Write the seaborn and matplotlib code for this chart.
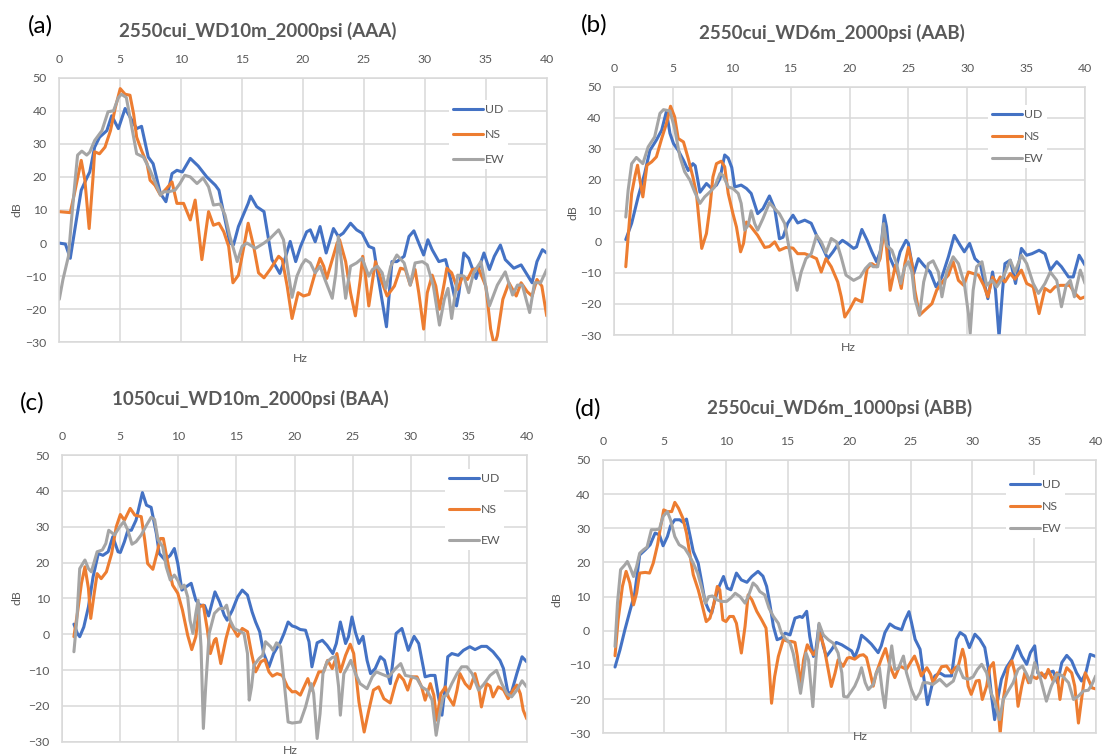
import matplotlib
matplotlib.use("Agg")
import matplotlib.pyplot as plt
import pandas as pd
import seaborn as sns

# ---------------------------------------------------------------- data
# Spectral level (dB) versus frequency (Hz) for three components per shot

series_names = ["UD", "NS", "EW"]
palette = {"UD": "#4472C4", "NS": "#ED7D31", "EW": "#A5A5A5"}

titles = ["2550cui_WD10m_2000psi (AAA)", "2550cui_WD6m_2000psi (AAB)",
          "1050cui_WD10m_2000psi (BAA)", "2550cui_WD6m_1000psi (ABB)"]
panel_tags = ["(a)", "(b)", "(c)", "(d)"]
x_ticks = [0, 5, 10, 15, 20, 25, 30, 35, 40]
y_ticks = [-30, -20, -10, 0, 10, 20, 30, 40, 50]

# (a) 2550cui_WD10m_2000psi
a_ud_hz = [0, 0.5, 0.9, 1.4, 1.8, 2.3, 2.5, 2.9, 3.3, 3.9, 4.3, 4.85, 5.4, 6.35, 6.75, 7.3, 7.7, 8.3, 8.75, 9.25,
           9.65, 10.1, 10.75, 11.4, 12.1, 12.8, 13.1, 14.0, 14.3, 14.7, 15.5, 15.7, 16.2, 16.8, 17.0, 17.45, 18.1,
           18.5, 18.95, 19.4, 19.8, 20.3, 20.6, 21.0, 21.4, 21.9, 22.5, 22.9, 23.3, 23.9, 24.4, 24.85, 25.4, 25.8,
           26.2, 26.85, 27.3, 27.7, 28.3, 28.7, 29.1, 29.5, 29.9, 30.25, 30.6, 31.15, 31.7, 32.1, 32.6, 32.8, 33.2,
           33.6, 34.2, 34.4, 34.85, 35.3, 35.7, 36.2, 36.6, 37.3, 37.9, 38.3, 38.8, 39.2, 39.65, 40.0]
a_ud_db = [0, -0.3, -4.6, 7, 16, 20, 21.5, 29, 32, 34, 38.5, 34.6, 40.7, 34.6, 35.3, 26, 24, 15, 12.5, 21,
           22, 21.5, 25.6, 23.3, 20, 17.5, 16, 0, -0.5, 5, 12, 14.2, 11, 9.5, 5, -5, -9.2,
           -5, 0.5, -5.6, -1, 3.4, 4, 0.4, 5, -3, 4.4, 2, 3, 6, 4, 3, -1, -1.6,
           -11, -25.3, -5.6, -5.6, -4, 2, 3.7, 0, -3.6, 1, -2, -5.6, -5, -10.7, -19, -15, -3,
           -4.6, -10.7, -8, -3, -8, -4, -0.6, -5, -7.6, -6.6, -9, -12, -5.6, -2, -3]
a_ns_hz = [0, 0.9, 1.3, 1.8, 2.1, 2.45, 2.75, 2.9, 3.3, 3.75, 4.2, 4.6, 5.0, 5.4, 5.8, 6.1, 6.35, 6.75, 7.2, 7.45,
           7.85, 8.3, 8.8, 9.25, 9.65, 10.2, 10.75, 11.15, 11.4, 11.7, 12.25, 12.65, 13.1, 13.5, 13.9, 14.25, 14.7,
           15.1, 15.5, 15.95, 16.35, 16.8, 17.3, 18.0, 18.3, 18.7, 19.1, 19.6, 20.05, 20.5, 21.0, 21.4, 21.7, 21.95,
           22.4, 22.8, 23.0, 23.5, 23.9, 24.3, 24.7, 24.9, 25.1, 25.4, 25.8, 25.95, 26.4, 26.9, 27.5, 28.0, 28.4,
           28.8, 29.2, 29.5, 29.9, 30.2, 30.6, 30.9, 31.2, 31.6, 31.8, 32.2, 32.7, 33.1, 33.5, 33.9, 34.4, 35.0,
           35.4, 35.7, 35.95, 36.4, 36.9, 37.5, 37.9, 38.4, 38.8, 39.2, 39.6, 40.0]
a_ns_db = [9.5, 9.2, 16, 25, 19, 4.4, 19, 27.6, 27, 29, 34, 41, 46.7, 45, 44.7, 39, 32, 28, 24, 19,
           17.5, 14.5, 16.5, 18.5, 12, 12, 7, 13, 5, -5, 9.5, 5.4, 6, 3.4, -1, -12, -9.7,
           -2, 6, -1, -9, -10.5, -8, -4, -5, -13, -22.8, -15, -16, -15.5, -9, -4.6, -7, -10.7,
           -5, 0, 1, -5.6, -15, -22, -11, -4, -9, -19, -9, -5.6, -11, -16, -13, -7.6, -8,
           -12.7, -8, -15, -26, -15, -9.7, -13, -20, -12, -7.6, -9, -14, -10, -11, -8, -7.6, -13,
           -26, -31, -28, -17, -12, -16, -12, -14.7, -16, -11, -13, -22]
a_ew_hz = [0, 0.3, 0.75, 1.0, 1.3, 1.5, 1.85, 2.25, 2.5, 2.9, 3.5, 4.0, 4.45, 4.85, 5.1, 5.5, 5.95, 6.35, 6.9,
           7.45, 7.85, 8.3, 8.55, 8.95, 9.5, 9.9, 10.3, 10.75, 11.3, 11.8, 12.25, 12.65, 13.2, 13.6, 14.0, 14.6,
           15.0, 15.4, 16.1, 16.8, 17.3, 18.0, 18.4, 18.8, 19.1, 19.5, 19.9, 20.2, 20.6, 21.0, 21.4, 21.8, 22.4,
           22.7, 22.9, 23.2, 23.5, 23.9, 24.4, 24.85, 25.4, 25.7, 26.1, 26.5, 26.8, 27.2, 27.7, 28.3, 28.8, 29.2,
           29.8, 30.2, 30.7, 31.2, 31.6, 31.9, 32.2, 32.7, 33.2, 33.6, 34.0, 34.6, 35.3, 35.95, 36.6, 37.2, 37.6,
           38.0, 38.6, 39.0, 39.5, 40.0]
a_ew_db = [-17, -11, -4, 7, 19, 26.6, 27.8, 26.6, 27.5, 31, 34, 39.7, 40, 44, 45, 44, 35, 27, 26,
           22, 18.5, 14.5, 15.5, 15.5, 16, 18, 20.5, 20, 18, 19.7, 17, 11.5, 11.8, 8.5, 2, -5.6,
           -1, 0, -1.6, 0, 1.4, 4, 1, -9, -16.4, -10, -6.6, -5, -6, -9, -7, -11, -16.7,
           -9, 2, -7, -16.7, -7, -6, -4.6, -10, -8, -7, -9, -13.7, -7, -3.6, -6, -12.7, -6,
           -5.6, -6.6, -13, -24.8, -17, -13.7, -22.8, -9.7, -10, -15, -9, -5.6, -19, -12.7, -8.7, -15.7, -12.7,
           -12.7, -21, -12, -12, -8]

# (b) 2550cui_WD6m_2000psi
b_ud_hz = [1.0, 1.5, 2.05, 2.6, 3.05, 3.6, 4.05, 4.45, 4.75, 5.05, 5.45, 5.9, 6.3, 6.7, 6.9, 7.3, 7.85, 8.3, 8.7,
           9.0, 9.4, 9.7, 10.0, 10.25, 10.8, 11.25, 11.65, 12.2, 12.65, 13.2, 13.65, 14.05, 14.35, 14.75, 15.2,
           15.6, 16.2, 16.75, 17.2, 17.75, 18.15, 18.6, 19.0, 19.4, 19.8, 20.35, 20.6, 21.05, 21.5, 21.9, 22.3,
           22.65, 22.95, 23.15, 23.4, 23.9, 24.3, 24.8, 25.0, 25.45, 25.85, 26.3, 26.85, 27.35, 27.85, 28.4, 28.9,
           29.4, 29.75, 30.2, 30.65, 31.1, 31.4, 31.75, 32.15, 32.4, 32.7, 33.0, 33.2, 33.65, 34.1, 34.6, 35.05,
           35.5, 36.1, 36.6, 37.05, 37.6, 38.0, 38.6, 39.0, 39.5, 40.0]
b_ud_db = [0.75, 6, 14.5, 22, 29.5, 32.8, 36, 42, 35, 31.7, 29.5, 26.3, 23, 25.2, 24.5, 16, 18.8, 17.2, 18.3,
           20.4, 28, 27, 24, 17.7, 18.3, 17.2, 15.6, 9.1, 10.7, 14.8, 10.7, 1, 1.5, 6, 8.6,
           6.1, 7, 6, 2.1, -2.1, -5.4, -3.2, -0.9, 0.5, -0.5, -2.1, -1.6, 4, 0.5, -3.2, -6.4,
           -2.7, 8.6, 4.8, -4.8, -9.1, -3.2, 0.5, -0.5, -10.2, -5.4, -7.5, -9.7, -14.5, -11.3, -4.8, 2.1,
           -1.1, -3.2, -0.5, -5.4, -7, -12.4, -18.3, -9.7, -15.6, -30.6, -15.6, -7, -5.9, -13.4, -2.1, -4.3,
           -3.8, -2.7, -3.8, -9.1, -6.4, -8, -11.3, -11.3, -4.3, -7.5]
b_ns_hz = [1.0, 1.2, 1.5, 1.8, 2.0, 2.2, 2.45, 2.8, 3.2, 3.6, 4.05, 4.45, 4.8, 5.15, 5.45, 5.9, 6.3, 6.7, 7.0,
           7.45, 7.85, 8.15, 8.4, 8.7, 9.1, 9.4, 9.7, 10.1, 10.4, 10.75, 11.0, 11.25, 11.65, 12.2, 12.8, 13.2,
           13.65, 14.05, 14.6, 15.2, 15.6, 16.2, 16.75, 17.2, 17.6, 18.0, 18.45, 19.0, 19.3, 19.6, 20.05, 20.5,
           20.75, 21.05, 21.5, 21.9, 22.3, 22.6, 22.95, 23.15, 23.45, 23.9, 24.15, 24.4, 24.7, 25.0, 25.3, 25.55,
           25.95, 26.4, 27.0, 27.4, 28.0, 28.4, 28.8, 29.25, 29.7, 30.1, 30.5, 30.95, 31.4, 31.75, 32.15, 32.5,
           32.8, 33.2, 33.65, 34.05, 34.6, 35.05, 35.6, 36.1, 36.6, 37.05, 37.45, 37.9, 38.7, 39.15, 39.6, 40.0]
b_ns_db = [-8, 1.6, 15.6, 21.5, 24.7, 19.9, 14.5, 24.7, 25.8, 27.4, 33.3, 38.1, 43.7, 40.3, 33.3, 32.2, 26.9,
           20.9, 15.6, -2.1, 2.7, 11.3, 20.9, 25.2, 26, 24.2, 15.6, 9.1, 4.8, -3.2, -0.5, 6.4, 4.8, 2.1, -1.8,
           -1.5, 0, -2.7, -1.8, -2, -3.8, -3.8, -4.6, -5.4, -9.7, -5.4, -8, -12.9, -17.7, -24.2, -21.5, -18.3,
           -18.8, -19.3, -8.6, -7, -8, -5.4, 3.8, -2, -15.6, -7.5, -11, -15, -7, -1.8, -7, -15.6,
           -23.6, -22, -19.9, -15.6, -12.4, -10.7, -6.4, -12.4, -14, -9.7, -10.2, -10.7, -14, -17.7, -11.3, -13.4,
           -11.3, -12.9, -10.2, -12, -9.1, -13.4, -14.5, -23.1, -15, -16.1, -14.5, -14, -14, -16.6, -18.3, -17.7]
b_ew_hz = [1.0, 1.2, 1.5, 1.9, 2.45, 2.9, 3.45, 3.9, 4.2, 4.75, 5.15, 5.6, 6.0, 6.45, 6.85, 7.3, 7.7, 8.15, 8.55,
           9.0, 9.25, 9.7, 10.1, 10.55, 10.8, 11.1, 11.4, 11.65, 11.95, 12.2, 12.65, 13.2, 13.65, 14.05, 14.5,
           14.9, 15.2, 15.55, 15.9, 16.3, 16.75, 17.2, 17.6, 18.0, 18.45, 18.9, 19.3, 19.7, 20.35, 20.9, 21.35,
           21.75, 22.0, 22.4, 22.75, 22.9, 23.15, 23.6, 24.0, 24.35, 24.7, 25.0, 25.3, 25.55, 25.95, 26.3, 26.7,
           27.1, 27.55, 27.85, 28.25, 28.8, 29.25, 29.75, 30.1, 30.25, 30.5, 30.8, 31.25, 31.65, 32.1, 32.5,
           33.05, 33.65, 34.05, 34.6, 35.05, 35.6, 36.05, 36.6, 37.05, 37.6, 38.0, 38.4, 38.75, 39.1, 39.6, 40.0]
b_ew_db = [8, 16.6, 25.2, 27.2, 25.2, 30.6, 33.8, 41.4, 42.6, 42.2, 36.5, 27.4, 22.6, 19.9, 16.1, 12.4, 14.5,
           16.1, 17.7, 22, 21.5, 17.7, 17.2, 15.6, 12.4, 3.8, 5.4, 10, 5.9, 3.8, 7.5, 12.6, 10.7, 9.1, 5.9,
           -2.7, -9.1, -15.6, -9.7, -5.4, -3.8, 2.1, 0, -3.5, 1.1, 0, -5, -10.7, -12.4, -11.3, -8.6,
           -7, -8, -8, 0.5, 5.9, -1.1, -2.7, -7, -13.4, -8, -6.4, -9.7, -18.3, -23.6, -12.9, -7,
           -6.1, -9.7, -17.7, -9.7, -4.8, -7, -13.4, -23.1, -29.5, -15.6, -8, -6.4, -14, -12.4, -14.5,
           -11.3, -5.9, -9.7, -4.3, -7, -13.4, -16.6, -13.4, -9.7, -12.4, -20.9, -14, -12.4, -17.7, -9.1, -13.4]

# (c) 1050cui_WD10m_2000psi
c_ud_hz = [1.0, 1.3, 1.5, 1.85, 2.25, 2.65, 3.1, 3.5, 3.95, 4.35, 4.8, 5.0, 5.35, 5.65, 5.95, 6.35, 6.9, 7.25,
           7.65, 8.1, 8.35, 8.85, 9.3, 9.65, 9.95, 10.3, 10.65, 11.1, 11.5, 11.85, 12.25, 12.6, 13.15, 13.55,
           13.95, 14.2, 14.65, 15.1, 15.5, 15.95, 16.35, 16.65, 17.0, 17.35, 17.8, 18.2, 18.8, 19.1, 19.45, 19.8,
           20.1, 20.5, 20.95, 21.25, 21.5, 21.95, 22.4, 22.8, 23.3, 23.6, 23.95, 24.4, 24.65, 24.95, 25.25, 25.55,
           25.9, 26.25, 26.55, 26.95, 27.4, 27.75, 28.25, 28.75, 29.25, 29.8, 30.3, 30.7, 31.25, 31.7, 32.1, 32.4,
           32.7, 33.0, 33.2, 33.55, 34.1, 34.55, 35.1, 35.55, 36.1, 36.55, 37.1, 37.7, 38.0, 38.4, 38.7, 39.15,
           39.6, 40.0]
c_ud_db = [2.8, 0.2, -0.7, 2, 7.6, 16, 22.5, 22, 23, 27.2, 23, 22.8, 25.8, 29, 29, 31.8, 39.5, 36,
           35.4, 28.1, 22.5, 20.7, 22, 23.9, 19.7, 12.3, 13.2, 14.2, 9.5, 8.1, 8, 5.1, 11.8, 9,
           5.3, 3.9, 6.7, 10.4, 12.3, 10.9, 6.2, 3.4, 0.7, -5.4, -9.1, -5.4, -2.1, 0.2, 3.4, 2.3,
           2, 1.3, 1.1, -2.1, -9.1, -2.4, -1.7, -3.1, -5.4, -2.6, 3.4, -2.6, -0.7, 4.8, 0.5, -2.6,
           -0.6, -7.3, -11, -9.6, -6.3, -7.3, -13.8, 0.2, 1.6, -4.5, -0.6, -2.6, -11.9, -11.5, -11.5, -17.5,
           -22.6, -13.8, -6.3, -5.4, -5.9, -4.5, -3.5, -4.3, -3.4, -3.4, -4.9, -7.3, -9.6, -16.6, -16.1, -11,
           -6.3, -7.7]
c_ns_hz = [1.0, 1.3, 1.65, 1.95, 2.25, 2.45, 2.75, 3.0, 3.35, 3.8, 4.25, 4.65, 5.0, 5.35, 5.85, 6.25, 6.8, 7.1,
           7.35, 7.8, 8.15, 8.45, 8.7, 9.1, 9.5, 9.95, 10.35, 10.8, 11.15, 11.5, 11.8, 12.15, 12.5, 12.75, 13.1,
           13.25, 13.65, 14.1, 14.45, 14.8, 15.1, 15.5, 15.95, 16.3, 16.65, 17.1, 17.45, 17.8, 18.1, 18.5, 18.95,
           19.4, 19.8, 20.1, 20.5, 20.95, 21.15, 21.45, 21.8, 22.1, 22.5, 22.85, 23.25, 23.5, 23.65, 23.95, 24.4,
           24.8, 25.1, 25.55, 26.0, 26.4, 26.8, 27.25, 27.7, 28.25, 28.7, 29.0, 29.4, 29.75, 30.1, 30.55, 30.95,
           31.25, 31.7, 32.0, 32.25, 32.6, 33.0, 33.25, 33.7, 34.0, 34.25, 34.7, 35.1, 35.55, 35.85, 36.1, 36.55,
           36.85, 37.1, 37.55, 38.0, 38.4, 38.85, 39.15, 39.45, 39.7, 40.0]
c_ns_db = [-0.7, 5.8, 14.2, 18.8, 12.8, 4.4, 11.4, 16.9, 15.5, 17.4, 22.5, 30, 33.4, 31.8, 35.1, 33.2, 32.8, 26.3,
           19.7, 18.1, 22.5, 26.7, 26.7, 19.7, 13.7, 11.4, 6.7, -0.3, -4.3, -0.7, 7.6, 8.1, 1.1, -5.4, -1.7,
           -1.2, -8.2, -1.2, 3, 1.1, -0.6, 1.6, 0.7, -5.4, -10.5, -7.7, -7.1, -10.5, -11.7, -11, -11.5,
           -14.7, -16.1, -16, -17, -13.8, -12.4, -15.6, -13, -10.5, -10.5, -7.3, -9.6, -7.3, -5.4, -10.5, -5.9,
           -2.8, -5.4, -18.9, -27.3, -21.2, -15.6, -14.7, -18, -19.2, -13.8, -11.3, -12.8, -15.6, -11.9, -11.9, -14.7,
           -18.4, -13.8, -17, -24, -16.6, -14.7, -17.5, -19.8, -15.6, -11, -13.8, -15.2, -11, -14.7, -20.3, -13.8,
           -14.5, -17.5, -14.7, -15.5, -18, -15.5, -14.2, -16.6, -21.2, -23.6]
c_ew_hz = [1.0, 1.25, 1.5, 1.95, 2.25, 2.5, 3.0, 3.45, 3.75, 4.0, 4.5, 4.95, 5.3, 5.65, 6.0, 6.35, 6.8, 7.25,
           7.65, 7.95, 8.25, 8.65, 8.95, 9.3, 9.65, 9.95, 10.25, 10.5, 10.8, 11.0, 11.25, 11.5, 11.7, 11.95, 12.15,
           12.35, 12.65, 13.1, 13.5, 13.95, 14.15, 14.45, 14.8, 15.25, 15.65, 15.95, 16.1, 16.3, 16.5, 16.95,
           17.25, 17.5, 17.95, 18.15, 18.45, 18.8, 19.15, 19.45, 19.8, 20.5, 20.95, 21.25, 21.45, 21.65, 21.95,
           22.2, 22.45, 22.8, 23.25, 23.5, 23.8, 23.95, 24.25, 24.5, 24.85, 25.25, 25.65, 26.25, 26.7, 27.05,
           27.55, 28.1, 28.7, 29.15, 29.55, 30.0, 30.55, 30.95, 31.4, 31.85, 32.2, 32.5, 32.8, 33.1, 33.55, 34.0,
           34.4, 34.85, 35.3, 35.85, 36.3, 36.85, 37.4, 37.85, 38.3, 38.7, 39.15, 39.6, 40.0]
c_ew_db = [-4.9, 3.9, 18.3, 20.7, 18.3, 17.4, 23, 23.5, 25.3, 29, 27.7, 30, 31.4, 29, 25.1, 25.8, 27.7, 30.4,
           32.6, 32, 26.3, 24.4, 18.8, 15.1, 16.5, 15, 12.8, 13.7, 10.4, 3.9, 0.2, 5.8, 9.5, -3.5, -26.3,
           -14.7, 0.2, 5.8, 7.1, 7.2, 8.1, 3.9, 1.6, 0.9, 0.2, -5.4, -18.4, -14.7, -8.7, -6.8,
           -5.9, -2.1, -3.5, -4.5, -2.4, -3.5, -14.7, -24.5, -24.8, -24.5, -20.3, -16.6, -13.8, -16.6, -29.1,
           -22.2, -11, -7.7, -6.5, -6.3, -14.7, -22.6, -11, -9.6, -7.3, -11, -13.8, -15.2, -11.9, -10.5,
           -11.2, -11.9, -9.6, -8.2, -11.5, -11.8, -12.4, -14.7, -15.6, -18.4, -28.2, -22.2, -17.5, -17, -13.8, -11,
           -9.1, -9.1, -11, -15.6, -14, -11.5, -10.1, -13.8, -16.6, -17.5, -15.6, -13, -14.7]

# (d) 2550cui_WD6m_1000psi
d_ud_hz = [1.0, 1.4, 1.8, 2.2, 2.6, 3.0, 3.45, 3.85, 4.25, 4.6, 4.9, 5.25, 5.5, 5.85, 6.25, 6.5, 6.8, 7.1, 7.35,
           7.75, 8.0, 8.3, 8.6, 8.85, 9.1, 9.45, 9.8, 10.1, 10.4, 10.85, 11.25, 11.7, 12.1, 12.6, 13.0, 13.3,
           13.55, 13.85, 14.15, 14.5, 14.8, 15.2, 15.6, 16.0, 16.2, 16.55, 16.8, 17.1, 17.3, 17.55, 17.9, 18.15,
           18.55, 18.95, 19.4, 19.8, 20.2, 20.45, 20.75, 21.0, 21.4, 21.8, 22.35, 22.6, 22.9, 23.3, 23.7, 24.25,
           24.5, 24.85, 25.05, 25.35, 25.75, 26.0, 26.35, 26.7, 26.95, 27.35, 27.75, 28.3, 28.7, 29.0, 29.4,
           29.75, 30.2, 30.6, 31.0, 31.35, 31.55, 31.8, 32.1, 32.35, 32.75, 33.2, 33.65, 34.0, 34.4, 34.7, 35.05,
           35.3, 35.75, 36.15, 36.55, 36.9, 37.25, 37.65, 38.05, 38.45, 38.85, 39.2, 39.55, 40.0]
d_ud_db = [-10.6, -5.6, 0.3, 5.7, 11, 22.2, 23.7, 25.2, 28.6, 28.1, 24.9, 27.6, 30.7, 32.5, 32.5, 31.8, 32.7, 27.6,
           23.2, 19.8, 14.9, 8.6, 6.1, 5.2, 9.1, 13, 15.9, 12.5, 12, 16.9, 14.9, 14.2, 15.9, 17.4, 16, 13,
           8.1, 1.3, -2.6, -2.1, -0.7, -1.2, 3.7, 4.2, 3.9, 5.7, -1.7, -7.5, -5.5, 1.8, -4.6, -7.5,
           -5.6, -3.4, -4.1, -5, -5.9, -7.8, -4.9, -1.3, -2.5, -3.9, -6.4, -4.4, -0.5, 2, 1, 0.3,
           2.9, 5.6, 2.5, -2.5, -5.4, -12.3, -21.6, -16.2, -13.2, -12.3, -13.2, -13.2, -2.5, -0.5, -1.5,
           -4.9, -1, -2.5, -4.9, -12.3, -19.1, -26, -19.1, -14.2, -10.8, -8.3, -4.4, -7.4, -9.8, -6.4, -4.4,
           -12.3, -13.2, -12.3, -11.8, -15.2, -9.3, -7.2, -8.8, -12.3, -14.7, -12.3, -6.9, -7.5]
d_ns_hz = [1.0, 1.25, 1.6, 1.9, 2.2, 2.5, 2.75, 3.0, 3.45, 3.8, 4.1, 4.45, 4.7, 4.95, 5.25, 5.6, 5.85, 6.15, 6.5,
           6.8, 7.1, 7.35, 7.75, 8.0, 8.4, 8.7, 9.0, 9.3, 9.5, 9.75, 10.0, 10.3, 10.6, 10.85, 11.25, 11.55, 11.8,
           12.1, 12.5, 12.9, 13.25, 13.45, 13.7, 13.95, 14.25, 14.65, 15.05, 15.3, 15.6, 15.8, 16.05, 16.3, 16.6,
           16.85, 17.1, 17.35, 17.6, 17.95, 18.3, 18.55, 18.85, 19.1, 19.5, 19.85, 20.05, 20.45, 20.85, 21.15,
           21.4, 21.7, 21.95, 22.2, 22.6, 22.95, 23.3, 23.7, 24.1, 24.65, 25.05, 25.3, 25.6, 25.85, 26.3, 26.6,
           26.8, 27.1, 27.5, 27.9, 28.3, 28.6, 28.85, 29.2, 29.4, 29.65, 29.9, 30.3, 30.55, 30.8, 31.15, 31.4,
           31.7, 31.95, 32.25, 32.5, 32.9, 33.2, 33.45, 33.7, 34.0, 34.25, 34.55, 34.8, 35.2, 35.6, 35.9, 36.15,
           36.55, 36.85, 37.1, 37.35, 37.65, 38.05, 38.3, 38.6, 38.85, 39.15, 39.4, 39.7, 40.0]
d_ns_db = [-7.3, 3.2, 13, 17.4, 14, 7.6, 11, 16.9, 17.1, 16.9, 19.8, 25.2, 30.5, 35.4, 34.9, 34.9, 37.6, 35.9, 33,
           28.6, 21.8, 16.4, 12, 8.6, 2.7, 3.7, 7.6, 13, 12, 3.2, 2.7, 4.2, 4.2, 2.2, -6.5, 1.3, 10.5,
           9.1, 5.7, 3.2, 0.8, -7.5, -21.2, -13.4, -7.5, -2.6, -3.1, -3.1, -3.4, -7.5, -16.3, -8.5, -4.1,
           -5.6, -7, -5.5, -0.7, -4.6, -11.4, -16.3, -12.4, -8.5, -10.4, -8, -7.8, -8.3, -7.2, -7,
           -7.8, -12.3, -16.2, -12.3, -8.3, -5.2, -10.3, -13.7, -10.3, -11.3, -8.8, -7.4, -10.3, -13.2, -10.8, -12.7,
           -15.2, -13.2, -10.5, -10.3, -12.3, -10.8, -10.3, -5.4, -8.3, -16.2, -18.6, -14.7, -14.5, -20.1, -16.2, -10.8,
           -9.3, -17.2, -30, -20.1, -10.8, -8.8, -12.3, -22.1, -16.2, -12.3, -15.2, -13.2, -14, -12.3, -13.8, -11.3,
           -14.7, -12.3, -20.1, -14, -10.8, -12.3, -16.2, -27, -20.1, -12.3, -14.2, -16.7, -17]
d_ew_hz = [1.0, 1.2, 1.45, 1.8, 2.0, 2.25, 2.5, 2.75, 3.0, 3.3, 3.6, 3.95, 4.3, 4.6, 4.9, 5.25, 5.5, 5.85, 6.2,
           6.65, 7.0, 7.35, 7.7, 8.0, 8.35, 8.6, 8.9, 9.25, 9.65, 10.05, 10.4, 10.75, 11.15, 11.55, 11.8, 12.2,
           12.5, 12.75, 13.15, 13.5, 13.85, 14.25, 14.5, 14.9, 15.2, 15.45, 15.8, 16.05, 16.25, 16.5, 16.7, 16.85,
           17.05, 17.3, 17.55, 17.9, 18.3, 18.7, 19.1, 19.4, 19.55, 19.85, 20.2, 20.45, 20.75, 21.0, 21.3, 21.55,
           21.95, 22.2, 22.45, 22.7, 22.9, 23.15, 23.45, 23.7, 24.0, 24.4, 24.65, 25.05, 25.4, 25.75, 26.0, 26.35,
           26.8, 27.35, 27.9, 28.45, 28.85, 29.25, 29.65, 30.05, 30.4, 30.75, 31.15, 31.5, 31.8, 32.2, 32.5, 32.9,
           33.3, 33.7, 34.05, 34.4, 34.7, 35.05, 35.5, 36.0, 36.4, 36.85, 37.25, 37.8, 38.2, 38.6, 39.0, 39.4,
           39.7, 40.0]
d_ew_db = [-4.6, 8.1, 17.9, 19.3, 20.3, 18.3, 15.9, 18.8, 22.7, 23.7, 24.5, 29.6, 29.6, 29.8, 33.5, 34.9, 32.5, 27.6,
           25.2, 24.2, 22.2, 19.8, 16.9, 13, 8.1, 10, 10.2, 9.1, 8.6, 8.6, 9.6, 11, 10, 8.1, 10, 14,
           13, 11.5, 10.5, 6.6, 4.2, 2.2, -0.7, -2.6, -3.6, -6.5, -12.9, -18.3, -13.5, -6.5, -8.5, -14.3,
           -22.2, -8.5, 2.2, -1.2, -2.6, -3.6, -6.5, -12.3, -19.2, -19.4, -17.6, -16.2, -13.7, -10.8, -15.2, -17.2,
           -15.7, -12.3, -10.8, -18.1, -22.5, -13.2, -4.4, -11.3, -11, -7.4, -12.3, -17.2, -20.1, -18.1, -15.2, -15.2,
           -15.7, -14.2, -16.2, -14.7, -10.3, -13.7, -14.2, -13.5, -11.3, -9.8, -12.3, -18.1, -20.6, -26, -20.1, -17.6,
           -15.2, -11.3, -10.3, -12.7, -15.2, -9.3, -13.7, -20.6, -16.2, -12.7, -13, -15.2, -20.1, -19.1, -17.6, -17.4,
           -15.7, -13.2]

panel_series = [
    [(a_ud_hz, a_ud_db), (a_ns_hz, a_ns_db), (a_ew_hz, a_ew_db)],
    [(b_ud_hz, b_ud_db), (b_ns_hz, b_ns_db), (b_ew_hz, b_ew_db)],
    [(c_ud_hz, c_ud_db), (c_ns_hz, c_ns_db), (c_ew_hz, c_ew_db)],
    [(d_ud_hz, d_ud_db), (d_ns_hz, d_ns_db), (d_ew_hz, d_ew_db)],
]

# ---------------------------------------------------------------- layout (pixels)
W, H = 1102, 754
TEXT = "#595959"
GRID = "#D9D9D9"

# plot-area boxes: left, top, right, bottom
boxes = [(59.3, 77.7, 546.7, 342.3), (614, 86.7, 1085, 335),
         (62.3, 455, 526.7, 741.7), (602.7, 460, 1095.7, 733.3)]
title_xy = [(258, 31), (832, 33), (250, 399), (840, 408)]
tag_xy = [(40, 26), (594, 25), (32, 403), (588, 409)]
ylab_xy = [(17, 210), (573, 213), (17, 598), (557, 600)]
xlab_xy = [(300, 358), (848, 347), (290, 750), (860, 736)]
legend_xy = [(453, 107.7), (992, 113), (449, 477), (1010, 483)]   # start of first handle
legend_pitch = [25.7, 22.5, 31.5, 22.5]

sns.set_theme(style="white")
plt.rcParams["font.family"] = ["Lato", "DejaVu Sans"]

fig = plt.figure(figsize=(W / 100, H / 100), dpi=100)
FS = 8.8
fs_px = FS * 100 / 72


def fx(x):
    return x / W


def fy(y):
    return 1 - y / H


for i in range(4):
    l, t, r, b = boxes[i]
    ax = fig.add_axes([fx(l), fy(b), (r - l) / W, (b - t) / H])

    frames = []
    for name, (hz, db) in zip(series_names, panel_series[i]):
        if len(hz) != len(db):
            raise ValueError(f"panel {i} {name}: {len(hz)} vs {len(db)}")
        frames.append(pd.DataFrame({"Hz": hz, "dB": db, "comp": name}))
    df = pd.concat(frames, ignore_index=True)

    sns.lineplot(data=df, x="Hz", y="dB", hue="comp", hue_order=series_names,
                 palette=palette, sort=False, estimator=None, linewidth=2.2,
                 ax=ax, legend=False)
    for ln in ax.lines:
        ln.set_solid_joinstyle("round")
        ln.set_solid_capstyle("round")

    ax.set_xlim(0, 40)
    ax.set_ylim(-30, 50)
    ax.set_xticks(x_ticks)
    ax.set_yticks(y_ticks)
    ax.xaxis.tick_top()
    ax.tick_params(axis="both", length=0, labelsize=FS, labelcolor=TEXT)
    ax.tick_params(axis="x", pad=9.3)
    ax.tick_params(axis="y", pad=9.0)
    ax.grid(True, color=GRID, linewidth=1.1)
    ax.set_axisbelow(True)
    for sp in ax.spines.values():
        sp.set_color(GRID)
        sp.set_linewidth(1.1)
    ax.set_xlabel("")
    ax.set_ylabel("")

    # legend
    handles = [plt.Line2D([], [], color=palette[n], linewidth=2.2) for n in series_names]
    bp = 0.3
    lx, ly = legend_xy[i]
    spacing = legend_pitch[i] / fs_px - 0.95
    leg = ax.legend(handles, series_names, loc="upper left",
                    bbox_to_anchor=(fx(lx - bp * fs_px), fy(ly - 0.32 * fs_px - bp * fs_px)),
                    bbox_transform=fig.transFigure, fontsize=FS, labelcolor=TEXT,
                    handlelength=2.45, handletextpad=0.15, labelspacing=spacing,
                    borderpad=bp, borderaxespad=0, frameon=True, fancybox=False)
    leg.get_frame().set_facecolor("white")
    leg.get_frame().set_edgecolor("none")
    leg.get_frame().set_alpha(1)

    fig.text(fx(title_xy[i][0]), fy(title_xy[i][1]), titles[i], ha="center", va="center",
             fontsize=13.5, fontweight="bold", color=TEXT)
    fig.text(fx(tag_xy[i][0]), fy(tag_xy[i][1]), panel_tags[i], ha="center", va="center",
             fontsize=17.5, color="black")
    fig.text(fx(ylab_xy[i][0]), fy(ylab_xy[i][1]), "dB", ha="center", va="center",
             rotation=90, fontsize=FS, color=TEXT)
    fig.text(fx(xlab_xy[i][0]), fy(xlab_xy[i][1]), "Hz", ha="center", va="center",
             fontsize=FS, color=TEXT)

fig.savefig("out.png", dpi=100, facecolor="white")
